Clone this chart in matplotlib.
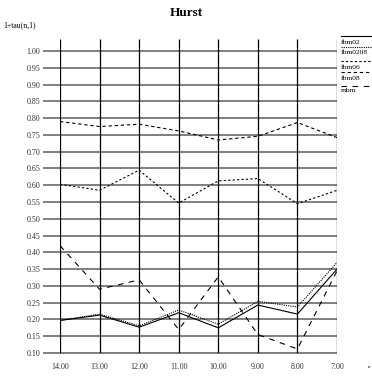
import matplotlib
matplotlib.use("Agg")
import matplotlib.pyplot as plt
import numpy as np

plt.rcParams["font.family"] = ["Liberation Serif", "DejaVu Serif"]

n_values = [14, 13, 12, 11, 10, 9, 8, 7]
x_ticks = [14, 13, 12, 11, 10, 9, 8, 7]
y_ticks = [0.10, 0.15, 0.20, 0.25, 0.30, 0.35, 0.40, 0.45, 0.50, 0.55,
           0.60, 0.65, 0.70, 0.75, 0.80, 0.85, 0.90, 0.95, 1.00]

fbm02 = [0.197, 0.213, 0.177, 0.220, 0.175, 0.243, 0.216, 0.350]
fbm0208 = [0.197, 0.216, 0.181, 0.228, 0.186, 0.254, 0.237, 0.370]
fbm06 = [0.603, 0.585, 0.645, 0.547, 0.613, 0.620, 0.545, 0.585]
fbm08 = [0.790, 0.775, 0.782, 0.762, 0.735, 0.746, 0.787, 0.742]
mbm = [0.420, 0.290, 0.318, 0.170, 0.327, 0.155, 0.112, 0.345]

series = [
    ("fbm02", fbm02, "-"),
    ("fbm0208", fbm0208, (0, (1, 1))),
    ("fbm06", fbm06, (0, (2, 2))),
    ("fbm08", fbm08, (0, (3, 2.5))),
    ("mbm", mbm, (0, (5, 5))),
]

W, H = 372, 377
fig = plt.figure(figsize=(W / 100, H / 100), dpi=100)
ax = fig.add_axes([60 / W, (H - 353) / H, (337 - 60) / W, (353 - 39) / H])
ax.set_xlim(14, 7)
ax.set_ylim(0.10, 1.036)
for s in ax.spines.values():
    s.set_visible(False)

# grid: horizontal lines reach past the left edge like tick marks
ax.hlines(y_ticks, 14 + 17 / 39.6, 7, colors="#6a6a6a", lw=1.2,
          clip_on=False, zorder=1)
ax.vlines(x_ticks, 0.10, 1.036, colors="black", lw=0.9, zorder=1)

for name, vals, ls in series:
    ax.plot(n_values, vals, color="black", lw=0.8, linestyle=ls, zorder=3)

ax.set_xticks(x_ticks)
ax.set_xticklabels([f"{v:.2f}" for v in x_ticks])
ax.set_yticks(y_ticks)
ax.set_yticklabels([f"{v:.2f}" for v in y_ticks])
ax.tick_params(length=0, colors="#333333")
ax.tick_params(axis="y", pad=14, labelsize=5.8)
ax.tick_params(axis="x", pad=7.5, labelsize=5.8)

fig.text(186 / W, 1 - 13 / H, "Hurst", ha="center", va="center",
         fontsize=9.5, fontweight="bold")
fig.text(3 / W, 1 - 25 / H, "1+tau(n,1)", ha="left", va="center", fontsize=5.6)
fig.text(369 / W, 1 - 367 / H, "n", ha="center", va="center", fontsize=3.5)

# key at the right edge: sample line above each label
key_y = [36, 47, 61, 72, 86]
text_y = [42.5, 53, 67.5, 78, 91]
for (name, vals, ls), ly, ty in zip(series, key_y, text_y):
    fig.add_artist(plt.Line2D([341 / W, 1.0], [1 - ly / H, 1 - ly / H],
                              color="black", lw=0.8, linestyle=ls))
    fig.text(341 / W, 1 - ty / H, name, ha="left", va="center", fontsize=5.4)

fig.savefig("out.png", dpi=100)
